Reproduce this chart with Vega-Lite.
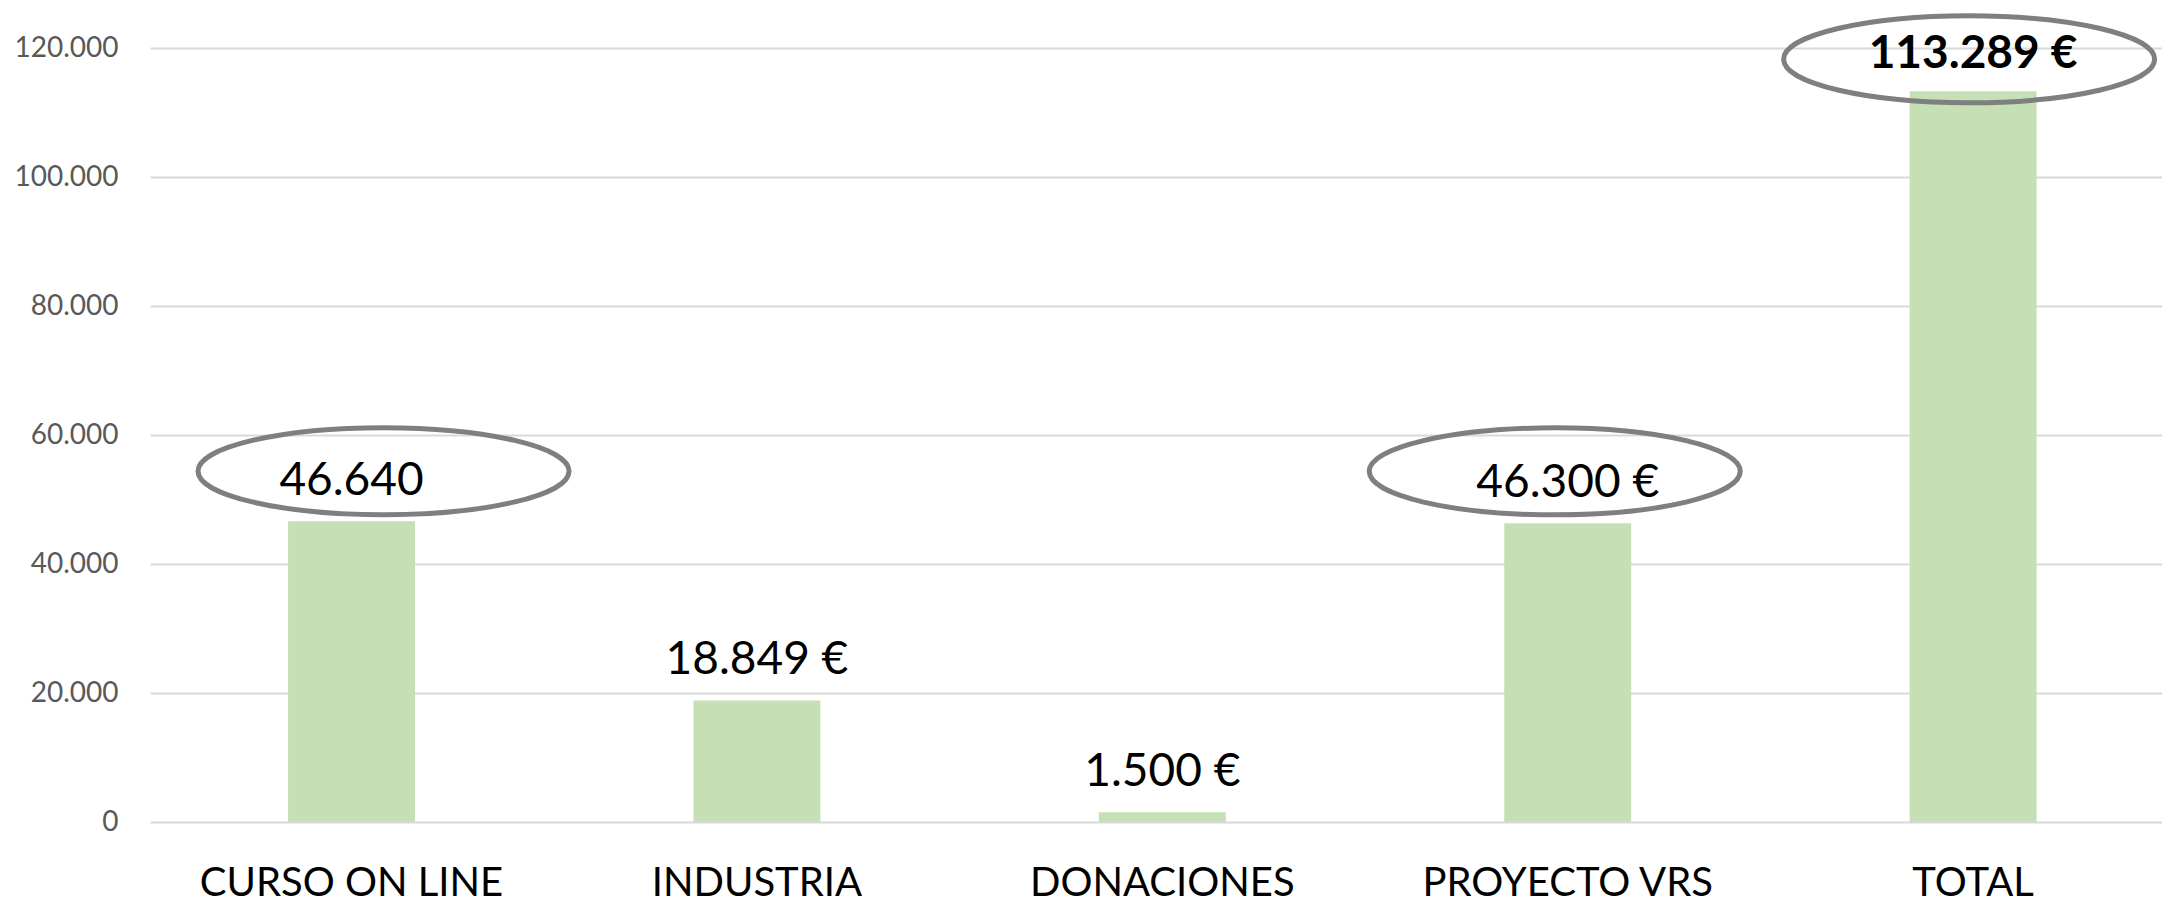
{
  "$schema": "https://vega.github.io/schema/vega-lite/v6.json",
  "width": 2012,
  "height": 774,
  "autosize": {"type": "none"},
  "padding": {"left": 150, "top": 48, "right": 0, "bottom": 81},
  "background": "white",
  "config": {
    "view": {"stroke": null},
    "font": "Lato"
  },
  "data": {
    "values": [
      {"categoria": "CURSO ON LINE", "importe": 46640, "etiqueta": "46.640"},
      {"categoria": "INDUSTRIA", "importe": 18849, "etiqueta": "18.849 €"},
      {"categoria": "DONACIONES", "importe": 1500, "etiqueta": "1.500 €"},
      {"categoria": "PROYECTO VRS", "importe": 46300, "etiqueta": "46.300 €"},
      {"categoria": "TOTAL", "importe": 113289, "etiqueta": "113.289 €"}
    ]
  },
  "encoding": {
    "x": {
      "field": "categoria",
      "type": "nominal",
      "sort": null,
      "scale": {"paddingInner": 0.687, "paddingOuter": 0.325, "align": 0.524},
      "axis": {
        "title": null,
        "labelAngle": 0,
        "labelFont": "Lato",
        "labelFontSize": 40,
        "labelColor": "#000000",
        "labelBaseline": "alphabetic",
        "labelPadding": 73,
        "labelLimit": 0,
        "labelOverlap": false,
        "ticks": false,
        "domain": false
      }
    },
    "y": {
      "field": "importe",
      "type": "quantitative",
      "scale": {"domain": [0, 120000], "nice": false},
      "axis": {
        "title": null,
        "values": [0, 20000, 40000, 60000, 80000, 100000, 120000],
        "labelExpr": "replace(format(datum.value, ','), ',', '.')",
        "labelFont": "Lato",
        "labelFontSize": 28,
        "labelColor": "#595959",
        "labelPadding": 32,
        "ticks": false,
        "domain": false,
        "grid": true,
        "gridColor": "#d9d9d9",
        "gridWidth": 2
      }
    }
  },
  "layer": [
    {
      "mark": {"type": "bar", "color": "#C5E0B4"}
    },
    {
      "transform": [{"filter": "datum.categoria !== 'TOTAL'"}],
      "mark": {"type": "text", "baseline": "alphabetic", "align": "center", "dy": -26, "fontSize": 46, "font": "Lato", "color": "#000000"},
      "encoding": {"text": {"field": "etiqueta"}}
    },
    {
      "transform": [{"filter": "datum.categoria === 'TOTAL'"}],
      "mark": {"type": "text", "baseline": "alphabetic", "align": "center", "dy": -23, "fontSize": 46, "fontWeight": "bold", "font": "Lato", "color": "#000000"},
      "encoding": {"text": {"field": "etiqueta"}}
    },
    {
      "transform": [{"filter": "datum.categoria === 'CURSO ON LINE'"}],
      "mark": {"type": "point", "filled": false, "stroke": "#7f7f7f", "strokeWidth": 5, "opacity": 1, "size": 137641, "xOffset": 32, "yOffset": -50,
        "shape": "M-1,0 C-1,-0.1295 -0.5523,-0.2345 0,-0.2345 C0.5523,-0.2345 1,-0.1295 1,0 C1,0.1295 0.5523,0.2345 0,0.2345 C-0.5523,0.2345 -1,0.1295 -1,0 Z"}
    },
    {
      "transform": [{"filter": "datum.categoria === 'PROYECTO VRS'"}],
      "mark": {"type": "point", "filled": false, "stroke": "#7f7f7f", "strokeWidth": 5, "opacity": 1, "size": 137641, "xOffset": -13, "yOffset": -52,
        "shape": "M-1,0 C-1,-0.1295 -0.5523,-0.2345 0,-0.2345 C0.5523,-0.2345 1,-0.1295 1,0 C1,0.1295 0.5523,0.2345 0,0.2345 C-0.5523,0.2345 -1,0.1295 -1,0 Z"}
    },
    {
      "transform": [{"filter": "datum.categoria === 'TOTAL'"}],
      "mark": {"type": "point", "filled": false, "stroke": "#7f7f7f", "strokeWidth": 5, "opacity": 1, "size": 137641, "xOffset": -4, "yOffset": -32,
        "shape": "M-1,0 C-1,-0.1295 -0.5523,-0.2345 0,-0.2345 C0.5523,-0.2345 1,-0.1295 1,0 C1,0.1295 0.5523,0.2345 0,0.2345 C-0.5523,0.2345 -1,0.1295 -1,0 Z"}
    }
  ]
}
